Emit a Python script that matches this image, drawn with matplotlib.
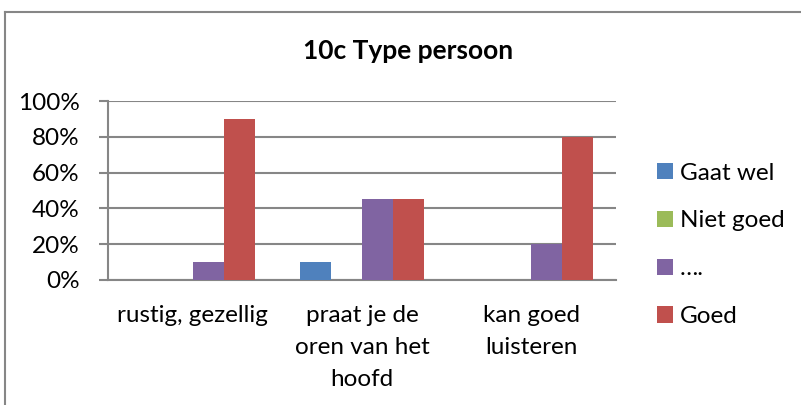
import matplotlib.pyplot as plt
import numpy as np
from matplotlib.lines import Line2D
from matplotlib.patches import Patch

plt.rcParams['font.family'] = ['Lato', 'DejaVu Sans']

categories = ["rustig, gezellig", "praat je de\noren van het\nhoofd", "kan goed\nluisteren"]
series_names = ["Gaat wel", "Niet goed", "….", "Goed"]
gaat_wel = [0, 10, 0]
niet_goed = [0, 0, 0]
puntjes = [10, 45, 20]
goed = [90, 45, 80]
colors = ["#4F81BD", "#9BBB59", "#8064A2", "#C0504D"]

fig = plt.figure(figsize=(8.01, 4.05), dpi=100)
W, H = 801, 405
# plot area in pixels: x 108..616, y 101..280
ax = fig.add_axes([108 / W, 1 - 280 / H, (616 - 108) / W, (280 - 101) / H])

x = np.arange(len(categories))
width = 0.183
all_series = [gaat_wel, niet_goed, puntjes, goed]
for i, (vals, col) in enumerate(zip(all_series, colors)):
    ax.bar(x + (i - 1.5) * width, vals, width, color=col, zorder=3)

ax.set_xlim(-0.5, 2.5)
ax.set_ylim(0, 100)
ax.set_yticks(range(0, 101, 20))
ax.set_yticklabels([f"{v}%" for v in range(0, 101, 20)], fontsize=17.5)
ax.set_xticks(x)
ax.set_xticklabels(categories, fontsize=17.5, linespacing=1.65)
ax.tick_params(axis='x', length=0, pad=18)
ax.tick_params(axis='y', length=6.5, color='#868686', width=1.5, pad=14)
ax.grid(axis='y', color='#868686', linewidth=1.5, zorder=0)
for side in ['top', 'right']:
    ax.spines[side].set_visible(False)
ax.spines['left'].set_color('#868686')
ax.spines['left'].set_linewidth(1.5)
ax.spines['bottom'].set_color('#868686')
ax.spines['bottom'].set_linewidth(1.5)

fig.text(408 / W, 1 - 51 / H, "10c Type persoon", ha='center', va='center',
         fontsize=19, fontweight='bold')

handles = [Patch(facecolor=c, edgecolor='none') for c in colors]
leg = fig.legend(handles, series_names,
                 loc='upper left', bbox_to_anchor=(647 / W, 1 - 153 / H),
                 frameon=False, fontsize=17.5, handlelength=0.65, handleheight=0.65,
                 handletextpad=0.3, labelspacing=1.1, borderaxespad=0)

# outer chart border (top and left visible)
fig.add_artist(Line2D([5 / W, 1], [1 - 12 / H, 1 - 12 / H], color='#868686', linewidth=1.5))
fig.add_artist(Line2D([5 / W, 5 / W], [0, 1 - 12 / H], color='#868686', linewidth=1.5))

fig.savefig("out.png", dpi=100)
